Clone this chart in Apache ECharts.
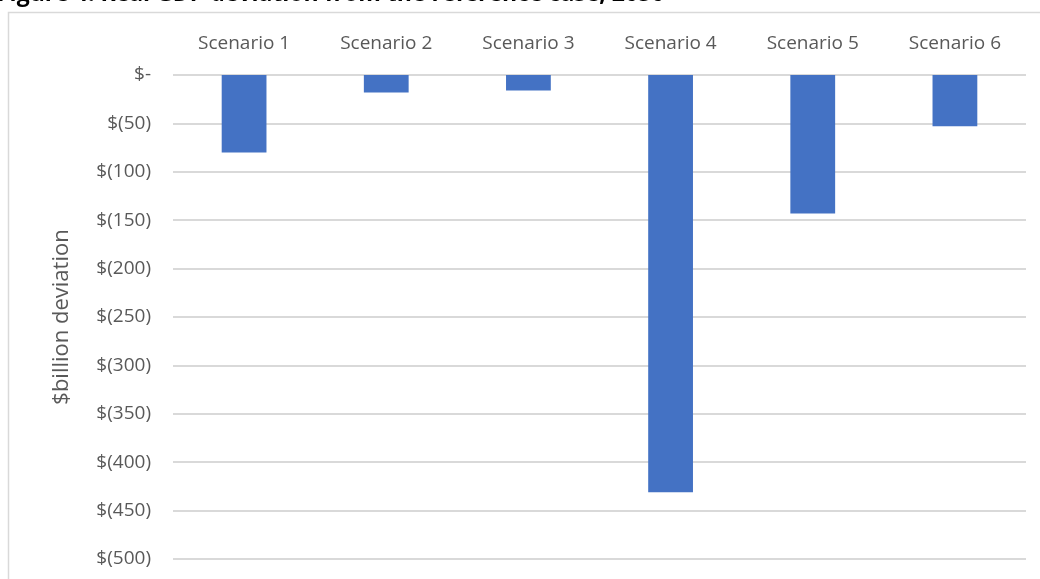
<!DOCTYPE html>
<html>
<head>
<meta charset="utf-8">
<script src="https://cdn.jsdelivr.net/npm/echarts@6/dist/echarts.min.js"></script>
<style>
  html, body { margin: 0; padding: 0; background: #ffffff; }
  #chart { width: 1040px; height: 579px; }
</style>
</head>
<body>
<div id="chart"></div>
<script>
// Scenario names along the top axis
const scenarios = ['Scenario 1', 'Scenario 2', 'Scenario 3', 'Scenario 4', 'Scenario 5', 'Scenario 6'];
// Deviation from the reference case, $billion
const deviation = [-80, -18, -16, -431, -143, -53];
// Value axis range
const axisMin = -500;
const axisMax = 0;
const axisStep = 50;

const titleText = 'Figure 4. Real GDP deviation from the reference case, 2050';
const fontFamily = '"Open Sans", "DejaVu Sans", sans-serif';
const textGray = '#595959';

function dollarLabel(v) {
  if (v === 0) return '$-';
  if (v < 0) return '$(' + Math.abs(v) + ')';
  return '$' + v;
}

const chart = echarts.init(document.getElementById('chart'), null, { renderer: 'canvas' });

chart.setOption({
  backgroundColor: '#ffffff',
  animation: false,
  graphic: [
    {
      type: 'rect',
      shape: { x: 8.5, y: 12.5, width: 1200, height: 800 },
      style: { fill: 'none', stroke: '#D9D9D9', lineWidth: 1.5 },
      silent: true
    },
    {
      type: 'text',
      left: -3,
      top: -17,
      style: {
        text: titleText,
        font: 'bold 23px ' + fontFamily,
        fill: '#000000'
      },
      silent: true
    }
  ],
  grid: { left: 173, right: 14, top: 75, bottom: 20 },
  xAxis: {
    type: 'category',
    position: 'top',
    data: scenarios,
    axisLine: { show: false },
    axisTick: { show: false },
    axisLabel: {
      color: textGray,
      fontFamily: fontFamily,
      fontSize: 19,
      margin: 22
    },
    splitLine: { show: false }
  },
  yAxis: {
    type: 'value',
    min: axisMin,
    max: axisMax,
    interval: axisStep,
    name: '$billion deviation',
    nameLocation: 'middle',
    nameGap: 100,
    nameTextStyle: {
      color: textGray,
      fontFamily: fontFamily,
      fontSize: 22
    },
    axisLine: { show: false },
    axisTick: { show: false },
    axisLabel: {
      color: textGray,
      fontFamily: fontFamily,
      fontSize: 19,
      margin: 22,
      formatter: dollarLabel
    },
    splitLine: { lineStyle: { color: '#D9D9D9', width: 2 } }
  },
  series: [
    {
      type: 'bar',
      data: deviation,
      barWidth: '31.5%',
      itemStyle: { color: '#4472C4' },
      silent: true
    }
  ]
});
</script>
</body>
</html>
